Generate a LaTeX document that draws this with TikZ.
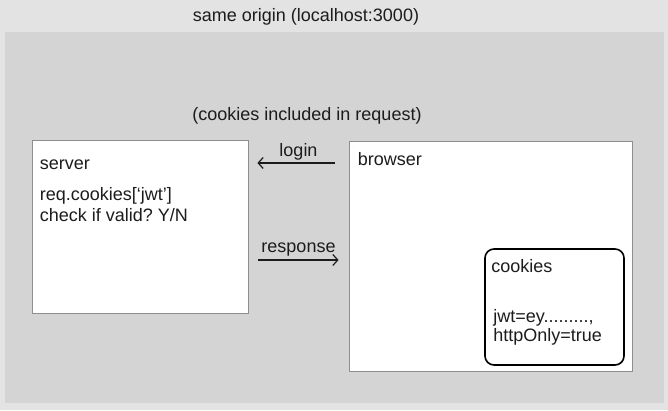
\documentclass[tikz,border=0pt]{standalone}
\usepackage{fontspec}
\setmainfont{Liberation Sans}
\usetikzlibrary{arrows.meta, positioning}
\frenchspacing

\definecolor{outerbg}{HTML}{E3E3E3}
\definecolor{innerbg}{HTML}{D4D4D4}
\definecolor{boxline}{HTML}{8E8E8E}
\definecolor{ink}{HTML}{1C1C1C}

\begin{document}
\begin{tikzpicture}[x=1pt, y=1pt,
        % styles
        panel/.style = {
                rectangle, draw=boxline, line width=0.8pt, fill=white,
                inner sep=0pt
            },
        store/.style = {
                rectangle, rounded corners=9pt, draw=black, line width=1.6pt,
                fill=white, inner sep=0pt
            },
        lbl/.style = {
                inner sep=0pt, text=ink,
                font=\fontsize{18}{21}\selectfont
            },
        arrow/.style = {
                line width=1.2pt, draw=ink,
                -{Straight Barb[length=5pt, width=11pt]}
            }]

    % background
    \fill[outerbg] (0,0) rectangle (668,410);
    \fill[innerbg] (5,7) rectangle (664,378);

    \node (title) [lbl, anchor=base] at (306,388) {same origin (localhost:3000)};
    \node (note) [lbl, anchor=base] at (307,289) {(cookies included in request)};

    % boxes
    \node (server) [panel, minimum width=216pt, minimum height=173pt] at (140,183.5) {};
    \node (browser) [panel, minimum width=283pt, minimum height=230pt] at (490.5,154) {};
    \node (cookies) [store, minimum width=139pt, minimum height=116pt] at (554.5,103) {};

    % box texts
    \node (server_name) [lbl, anchor=base west] at ([shift={(8,-30)}]server.north west) {server};
    \node (server_read) [lbl, anchor=base west] at ([shift={(8,-60.7)}]server.north west) {req.cookies[‘jwt’]};
    \node (server_check) [lbl, anchor=base west] at ([shift={(8,-81.7)}]server.north west) {check if valid? Y/N};
    \node (browser_name) [lbl, anchor=base west] at ([shift={(9,-25)}]browser.north west) {browser};
    \node (cookies_name) [lbl, anchor=base west] at ([shift={(7,-24)}]cookies.north west) {cookies};
    \node (cookies_jwt) [lbl, anchor=base west] at ([shift={(9,-74)}]cookies.north west) {jwt=ey.........,};
    \node (cookies_flag) [lbl, anchor=base west] at ([shift={(9,-93)}]cookies.north west) {httpOnly=true};

    % arrows
    \coordinate (login_y) at (0,247);
    \coordinate (response_y) at (0,150);
    \draw [arrow, shorten <=14pt, shorten >=9pt] (browser.west |- login_y) -- node[lbl, above=2pt] {login} (server.east |- login_y);
    \draw [arrow, shorten <=10pt, shorten >=10pt] (server.east |- response_y) -- node[lbl, above=3pt] {response} (browser.west |- response_y);

\end{tikzpicture}
\end{document}
